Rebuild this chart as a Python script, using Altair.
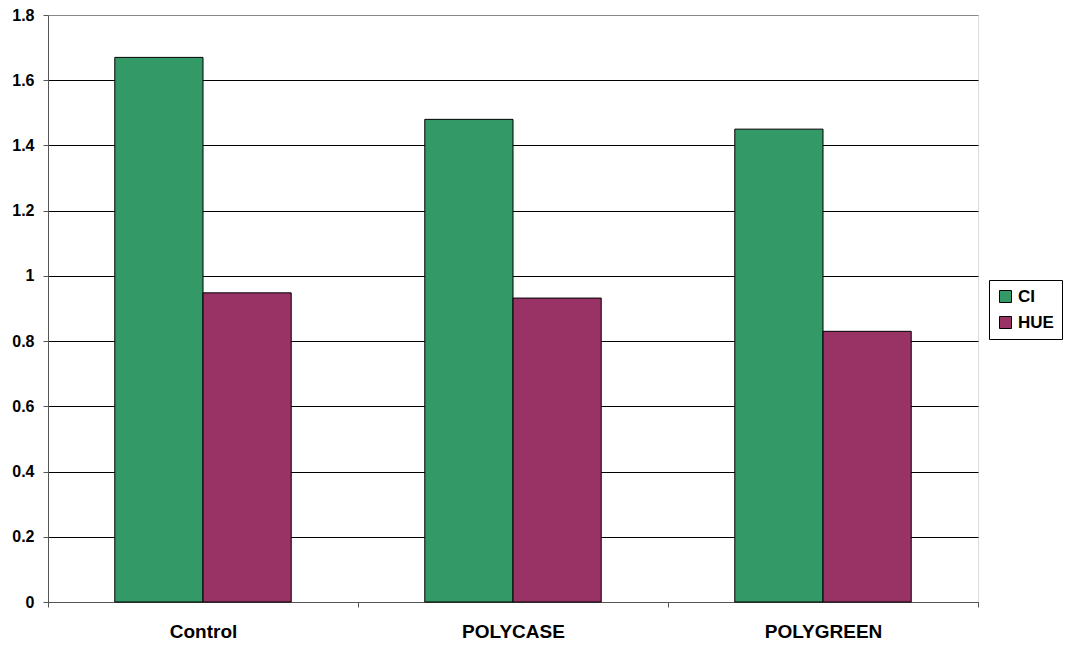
import altair as alt
import pandas as pd

categories = ["Control", "POLYCASE", "POLYGREEN"]
series = ["CI", "HUE"]
ci_values = [1.67, 1.48, 1.45]
hue_values = [0.948, 0.932, 0.83]
colors = ["#339966", "#993366"]

rows = []
for c, v in zip(categories, ci_values):
    rows.append({"cat": c, "series": "CI", "value": v})
for c, v in zip(categories, hue_values):
    rows.append({"cat": c, "series": "HUE", "value": v})
df = pd.DataFrame(rows)

font = "Liberation Sans"

chart = alt.Chart(df).mark_bar(stroke="black", strokeWidth=1).encode(
    x=alt.X("cat:N", sort=categories, title=None,
            scale=alt.Scale(paddingInner=0, paddingOuter=0),
            axis=alt.Axis(labelAngle=0, labelFont=font, labelFontSize=19, labelFontWeight="bold",
                          labelColor="black", labelPadding=15, tickBand="extent",
                          domainColor="#555555", tickColor="#555555", tickSize=5, grid=False)),
    xOffset=alt.XOffset("series:N", sort=series,
                        scale=alt.Scale(paddingInner=0, paddingOuter=0.757)),
    y=alt.Y("value:Q", title=None,
            scale=alt.Scale(domain=[0, 1.8], nice=False),
            axis=alt.Axis(values=[0, 0.2, 0.4, 0.6, 0.8, 1.0, 1.2, 1.4, 1.6, 1.8],
                          labelExpr="datum.value == 0 ? '0' : (datum.value == 1 ? '1' : format(datum.value, '.1f'))",
                          labelFont=font, labelFontSize=16, labelFontWeight="bold", labelColor="black",
                          labelPadding=9, tickSize=5, tickColor="#555555", domainColor="#555555",
                          gridColor={"condition": {"test": "datum.value >= 1.79", "value": "#888888"},
                                     "value": "black"},
                          gridOpacity=1, gridWidth=1)),
    color=alt.Color("series:N", sort=series,
                    scale=alt.Scale(domain=series, range=colors),
                    legend=alt.Legend(title=None, orient="none", legendX=941, legendY=265,
                                      symbolType="square", symbolSize=144, symbolStrokeColor="black",
                                      symbolStrokeWidth=1, labelFont=font, labelFontSize=17,
                                      labelFontWeight="bold", labelColor="black", labelOffset=4,
                                      strokeColor="black", padding=8, rowPadding=8,
                                      symbolOpacity=1)),
).properties(
    width=930, height=587,
    autosize=alt.AutoSizeParams(type="none"),
    padding={"left": 48, "top": 15, "right": 98, "bottom": 44},
).configure_view(
    stroke="#888888", strokeWidth=1
).configure(background="white")

chart.save("out.html", embed_options={"renderer": "svg", "actions": False})
